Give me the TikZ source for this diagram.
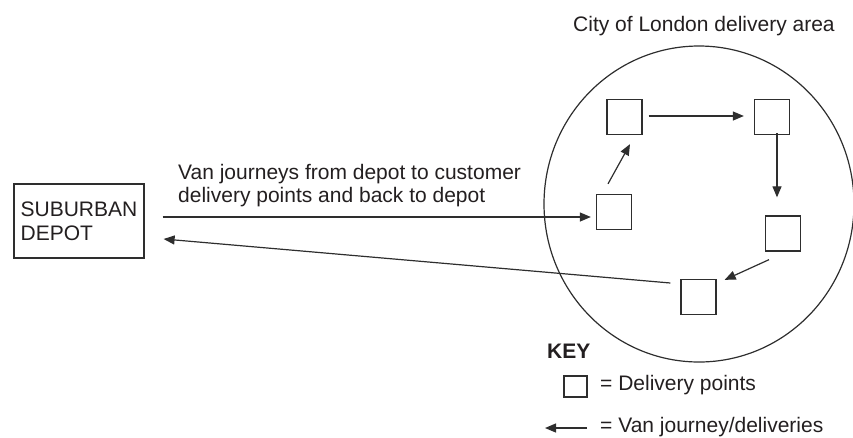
\documentclass[tikz,border=0pt]{standalone}
\usepackage{fontspec}
\setmainfont{Liberation Sans}
\usetikzlibrary{arrows.meta,calc,shapes.geometric}
\definecolor{ink}{HTML}{231F20}
\definecolor{line}{HTML}{2E2E2E}
\begin{document}
\begin{tikzpicture}[x=1pt,y=-1pt,
  every node/.style={font=\fontsize{21}{24}\selectfont, text=ink},
  txt/.style={anchor=base west, inner sep=0},
  dpoint/.style={draw=line, line width=1.3pt, minimum width=35pt, minimum height=35pt, inner sep=0},
  route/.style={draw=line, line width=1.2pt, -{Triangle[length=11pt,width=9pt]}}]
\useasboundingbox (0,0) rectangle (853,437);
% depot
\node[draw=line, line width=1.2pt, minimum width=130pt, minimum height=74pt, align=left, inner sep=0] (depot) at (79,221) {SUBURBAN\\DEPOT};
% area
\node[draw=line, line width=1.2pt, ellipse, minimum width=310pt, minimum height=316pt, inner sep=0] (area) at (699,204) {};
\node[txt] (title) at (573,31) {City of London delivery area};
% delivery points
\node[dpoint] (s1) at (624.5,117) {};
\node[dpoint] (s2) at (772,117) {};
\node[dpoint] (s3) at (614,212) {};
\node[dpoint] (s4) at (783,233.5) {};
\node[dpoint] (s5) at (698.5,297) {};
% label
\node[txt] (lab1) at (178,179) {Van journeys from depot to customer};
\node[txt] (lab2) at (178,202) {delivery points and back to depot};
% routes
\draw[route] ($(depot.east)+(18,-4)$) -- ($(s3.west)+(-5,5)$);
\draw[route] ($(s3.north)+(-6,-10)$) -- ($(s1.south)+(5.5,9)$);
\draw[route] ($(s1.east)+(6,-1)$) -- ($(s2.west)+(-10,-1)$);
\draw[route] ($(s2.south)+(5,-2)$) -- ($(s4.north)+(-6,-18)$);
\draw[route] ($(s4.south)+(-14,8)$) -- ($(s5.north east)+(8,1)$);
\draw[route] ($(s5.west)+(-10,-14)$) -- ($(depot.east)+(19,18)$);
% key
\node[txt, font=\fontsize{21}{24}\selectfont\bfseries] (key) at (547,358) {KEY};
\node[draw=line, line width=1.3pt, minimum width=23pt, minimum height=21pt, inner sep=0] (ksq) at (575.5,386.5) {};
\node[txt] (k1) at (600,390) {= Delivery points};
\coordinate (ka) at (587,428);
\coordinate (kb) at (545,428);
\draw[route] (ka) -- (kb);
\node[txt] (k2) at (600,432) {= Van journey/deliveries};
\end{tikzpicture}
\end{document}
